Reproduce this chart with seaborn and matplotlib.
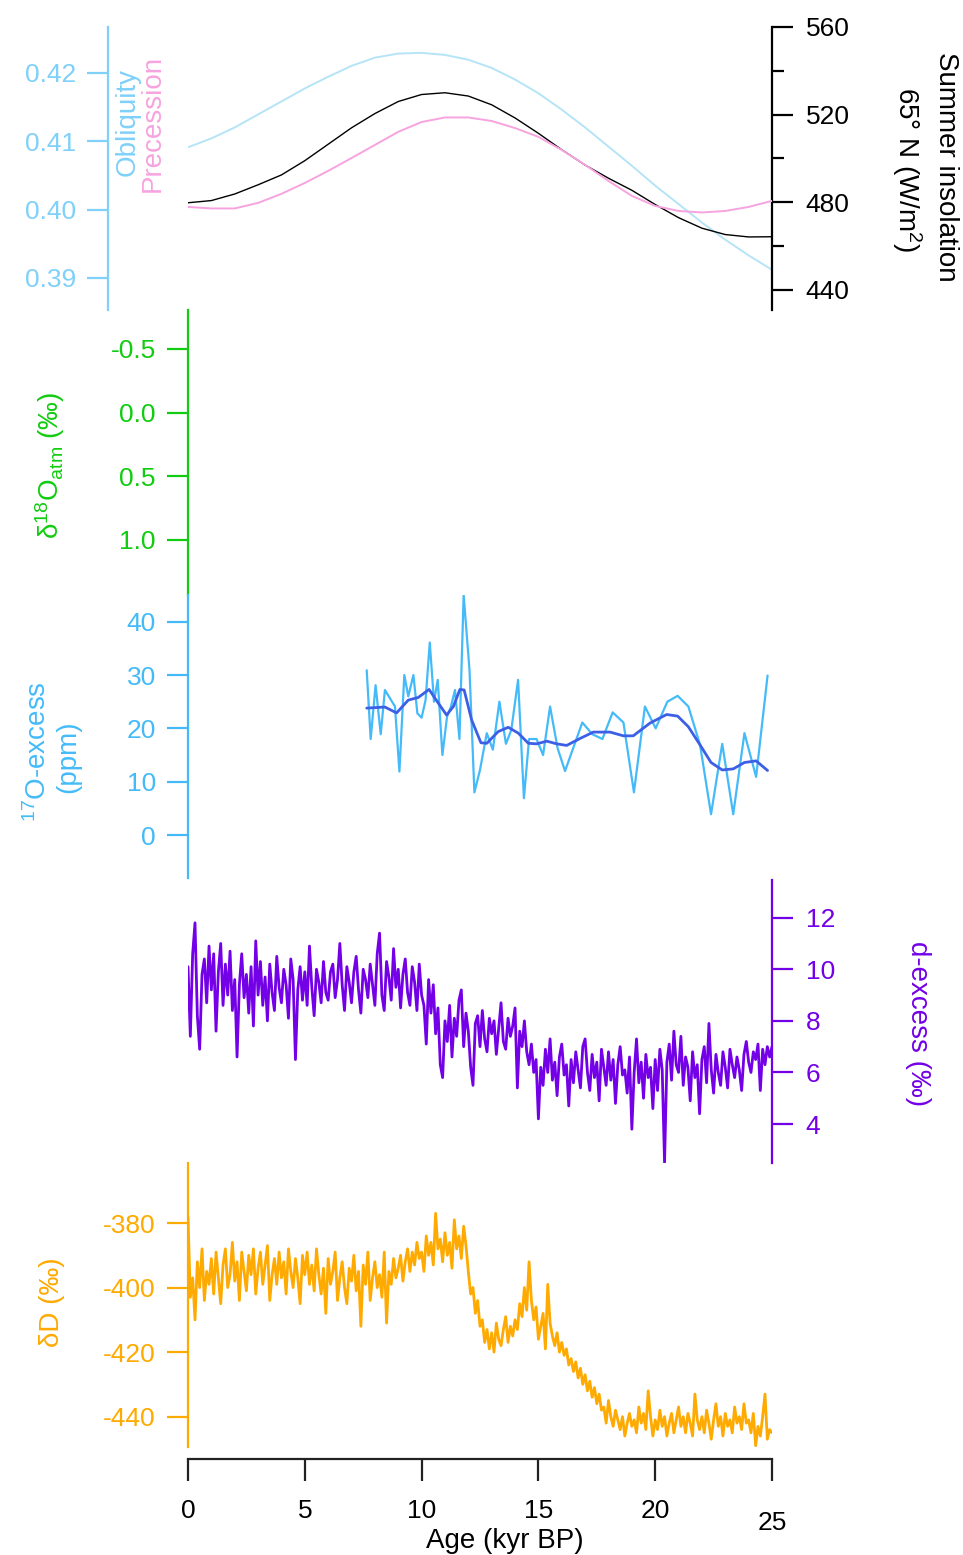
import numpy as np
import matplotlib
matplotlib.use("Agg")
import matplotlib.pyplot as plt
import matplotlib.transforms as mtransforms
import seaborn as sns

# ---------------- data ----------------
orb_age = [0, 1, 2, 3, 4, 5, 6, 7, 8, 9, 10, 11, 12, 13, 14, 15, 16, 17, 18, 19, 20, 21, 22, 23, 24, 25]
obliquity = [0.4091, 0.4104, 0.4120, 0.4139, 0.4158, 0.4177, 0.4194, 0.4210, 0.4222, 0.4228,
             0.4229, 0.4226, 0.4219, 0.4207, 0.4190, 0.4170, 0.4146, 0.4120, 0.4092, 0.4064,
             0.4035, 0.4008, 0.3981, 0.3956, 0.3933, 0.3912]
insolation = [479.8, 480.8, 483.8, 488.0, 492.5, 499.0, 506.5, 514.0, 520.5, 526.0,
              529.2, 530.0, 528.5, 524.5, 518.5, 511.5, 504.0, 497.0, 491.0, 485.5,
              479.0, 473.0, 468.2, 465.3, 464.2, 464.3]
precession = [0.0163, 0.0169, 0.0169, 0.0147, 0.0111, 0.0068, 0.0020, -0.0031, -0.0083, -0.0135,
              -0.0174, -0.0192, -0.0192, -0.0178, -0.0150, -0.0115, -0.0063, -0.0004, 0.0060, 0.0119,
              0.0159, 0.0179, 0.0185, 0.0179, 0.0163, 0.0139]

o17_age = [7.65, 7.82, 8.03, 8.25, 8.43, 8.86, 9.05, 9.26, 9.43, 9.65,
           9.82, 10.00, 10.17, 10.35, 10.53, 10.69, 10.89, 11.09, 11.25, 11.43,
           11.62, 11.80, 12.05, 12.26, 12.50, 12.79, 13.05, 13.33, 13.61, 13.84,
           14.13, 14.38, 14.60, 14.92, 15.20, 15.50, 15.82, 16.14, 16.88, 17.31,
           17.74, 18.18, 18.64, 19.09, 19.56, 20.02, 20.52, 20.96, 21.42, 21.92,
           22.39, 22.87, 23.34, 23.82, 24.32, 24.81]
o17_excess = [30.9, 18.0, 28.1, 18.9, 27.2, 24.1, 11.9, 30.0, 26.0, 30.0,
              22.8, 22.0, 25.3, 36.1, 25.0, 29.1, 15.0, 22.2, 24.0, 27.2,
              18.0, 45.0, 31.0, 8.0, 12.2, 19.1, 16.0, 25.0, 17.1, 19.7,
              29.1, 6.9, 18.0, 18.0, 15.0, 24.1, 16.3, 12.0, 21.1, 18.9,
              18.0, 23.0, 21.1, 8.0, 24.1, 20.0, 25.0, 26.1, 24.1, 16.9,
              3.9, 17.1, 3.9, 19.1, 10.9, 29.9]
o17_smooth_age = [7.65, 8.43, 8.93, 9.43, 9.86, 10.32, 10.72, 11.07, 11.36, 11.64,
                  11.82, 12.14, 12.54, 12.79, 13.28, 13.71, 14.14, 14.57, 14.93, 15.36,
                  15.78, 16.21, 16.78, 17.35, 18.07, 18.64, 19.06, 19.78, 20.49, 20.96,
                  21.42, 21.92, 22.39, 22.87, 23.34, 23.82, 24.32, 24.81]
o17_smooth = [23.8, 24.0, 22.9, 25.3, 25.8, 27.3, 24.7, 22.5, 24.1, 27.3,
              27.2, 21.6, 17.3, 17.2, 19.4, 20.2, 19.1, 17.2, 17.1, 17.6,
              17.1, 16.8, 18.1, 19.3, 19.3, 18.6, 18.6, 21.0, 22.6, 22.3,
              20.3, 16.9, 13.6, 12.2, 12.4, 13.6, 13.9, 12.1]

# ice-core records, 0.1 kyr spacing from 0 to 25 kyr BP
core_age = np.round(np.arange(251) * 0.1, 1)
d_excess = [
    10.1, 7.4, 10.6, 11.8, 8.2, 6.9, 9.8, 10.4, 8.7, 10.9,
    9.2, 10.6, 7.6, 9.9, 11.0, 8.6, 10.2, 9.0, 10.7, 8.4,
    9.6, 6.6, 9.4, 10.6, 8.9, 9.8, 8.3, 10.1, 7.8, 11.1,
    9.0, 10.3, 8.6, 9.7, 8.0, 10.2, 9.1, 8.4, 10.5, 9.3,
    8.7, 10.0, 9.4, 8.1, 10.4, 9.6, 6.5, 9.2, 10.1, 8.8,
    9.9, 8.6, 10.9, 9.3, 8.2, 10.0, 9.5, 8.7, 10.3, 9.1,
    8.8, 9.9, 10.2, 8.9, 9.6, 11.0, 9.4, 8.4, 10.1, 9.5,
    8.7, 9.9, 10.5, 9.2, 8.3, 10.0, 9.6, 8.9, 10.2, 9.4,
    8.6, 10.6, 11.4, 9.0, 8.4, 10.3, 9.7, 8.8, 10.8, 9.3,
    10.0, 8.5, 9.8, 10.4, 9.1, 8.6, 10.1, 9.5, 8.4, 10.2,
    9.0, 8.6, 7.1, 9.6, 8.3, 9.4, 7.5, 8.5, 6.3, 5.8,
    8.0, 7.2, 8.6, 6.6, 8.1, 7.4, 8.8, 9.2, 7.0, 8.3,
    7.6, 6.2, 5.5, 7.9, 8.2, 7.0, 8.4, 7.3, 6.8, 8.1,
    7.5, 8.0, 6.7, 7.7, 8.7, 7.2, 6.9, 8.1, 7.4, 7.8,
    8.5, 5.4, 7.6, 7.0, 8.0, 6.8, 6.3, 7.1, 6.0, 6.5,
    4.2, 6.2, 5.5, 6.9, 6.0, 7.3, 5.7, 6.4, 5.1, 6.6,
    7.1, 5.9, 6.3, 4.7, 6.5, 5.6, 6.8, 6.1, 5.4, 7.0,
    7.3, 6.0, 5.3, 6.7, 5.8, 6.4, 4.9, 6.9, 6.2, 5.5,
    6.8, 5.7, 6.5, 4.8, 6.3, 7.0, 5.9, 6.1, 5.2, 6.6,
    3.8, 6.0, 7.3, 5.6, 6.4, 5.0, 6.7, 5.8, 6.2, 4.6,
    6.5, 5.3, 6.9, 6.1, 2.5, 6.4, 7.1, 5.7, 7.6, 6.3,
    6.0, 7.4, 5.5, 6.6, 6.2, 4.9, 6.8, 5.8, 6.3, 4.4,
    6.5, 7.0, 5.6, 7.9, 6.1, 5.2, 6.7, 6.0, 5.5, 6.8,
    6.2, 5.4, 6.9, 6.3, 5.8, 6.6, 6.1, 5.3, 6.7, 7.2,
    6.4, 6.0, 6.8, 6.5, 7.1, 5.3, 6.9, 6.3, 7.0, 6.6,
    7.0]
delta_d = [
    -378, -403, -397, -410, -392, -400, -388, -404, -395, -399,
    -391, -402, -389, -397, -405, -393, -388, -400, -396, -386,
    -398, -392, -404, -389, -395, -401, -390, -396, -388, -402,
    -394, -389, -399, -393, -387, -404, -396, -391, -399, -389,
    -397, -392, -402, -388, -395, -400, -391, -397, -405, -390,
    -396, -389, -399, -393, -401, -388, -396, -402, -394, -408,
    -391, -399, -395, -389, -404, -397, -392, -400, -405, -394,
    -398, -390, -401, -395, -412, -393, -399, -389, -404, -397,
    -392, -400, -396, -403, -389, -411, -395, -399, -391, -397,
    -394, -390, -398, -392, -388, -395, -389, -393, -386, -391,
    -389, -395, -384, -390, -386, -393, -377, -388, -385, -392,
    -383, -390, -386, -394, -379, -388, -384, -391, -381, -387,
    -395, -402, -400, -408, -404, -412, -410, -417, -413, -419,
    -414, -420, -411, -416, -418, -413, -409, -417, -412, -415,
    -410, -413, -405, -409, -400, -407, -392, -404, -410, -406,
    -416, -412, -408, -419, -399, -411, -415, -418, -414, -420,
    -417, -421, -419, -424, -422, -426, -423, -428, -425, -430,
    -427, -432, -429, -434, -431, -436, -433, -438, -437, -442,
    -435, -440, -443, -438, -441, -444, -440, -446, -442, -439,
    -443, -441, -445, -437, -442, -439, -444, -432, -440, -446,
    -441, -444, -438, -443, -440, -446, -442, -439, -445, -441,
    -437, -443, -440, -445, -439, -442, -446, -433, -441, -444,
    -440, -445, -438, -442, -447, -441, -436, -443, -440, -446,
    -439, -443, -441, -445, -437, -442, -440, -444, -436, -442,
    -441, -445, -439, -449, -443, -446, -440, -433, -447, -444,
    -445]

x_ticks = [0, 5, 10, 15, 20, 25]
obl_ticks = [0.39, 0.40, 0.41, 0.42]
ins_ticks = [440, 480, 520, 560]
d18_ticks = [-0.5, 0.0, 0.5, 1.0]
o17_ticks = [0, 10, 20, 30, 40]
dex_ticks = [4, 6, 8, 10, 12]
dd_ticks = [-440, -420, -400, -380]

# ---------------- style ----------------
sns.set_theme(style="white")
plt.rcParams["font.family"] = ["Liberation Sans", "DejaVu Sans"]
plt.rcParams["mathtext.default"] = "regular"
plt.rcParams["lines.solid_joinstyle"] = "round"

C_OBL = "#7fd0fa"
C_OBL_LINE = "#b5e4f7"
C_PREC = "#f7a3df"
C_D18 = "#11cc11"
C_O17 = "#44bbf8"
C_O17S = "#3d5fe6"
C_DEX = "#7300e6"
C_DD = "#ffaa00"

W, H = 963, 1555
fig = plt.figure(figsize=(W / 100, H / 100), dpi=100)
PX = 0.72  # points per pixel
TS = 19
LS = 20


def add_axes(top, bottom, left=188, right=772):
    return fig.add_axes([left / W, 1 - bottom / H, (right - left) / W, (bottom - top) / H])


def style(ax, side, color, ticks, labels, ylim, pad=8):
    ax.set_xlim(0, 25)
    ax.set_ylim(*ylim)
    for s in ["top", "bottom", "left", "right"]:
        ax.spines[s].set_visible(False)
    ax.spines[side].set_visible(True)
    ax.spines[side].set_color(color)
    ax.spines[side].set_linewidth(1.6)
    ax.yaxis.set_ticks_position(side)
    ax.set_yticks(ticks)
    ax.set_yticklabels(labels)
    ax.tick_params(axis="y", which="major", direction="out", length=21 * PX, width=1.6,
                   color=color, labelcolor=color, labelsize=TS, pad=pad,
                   left=(side == "left"), right=(side == "right"),
                   labelleft=(side == "left"), labelright=(side == "right"))
    ax.tick_params(axis="x", bottom=False, labelbottom=False, top=False)
    ax.set_xlabel("")
    ax.set_ylabel("")
    ax.patch.set_visible(False)
    ax.grid(False)


def line(ax, x, y, color, lw):
    sns.lineplot(x=x, y=y, ax=ax, color=color, linewidth=lw, estimator=None,
                 sort=False, legend=False)


# ---- panel 1: orbital parameters ----
ax1 = add_axes(27, 310)
ax1b = ax1.twinx()
ax1c = ax1.twinx()
line(ax1, orb_age, obliquity, C_OBL_LINE, 1.4)
line(ax1b, orb_age, insolation, "black", 1.0)
line(ax1c, orb_age, precession, C_PREC, 1.4)
style(ax1, "left", C_OBL, obl_ticks, ["%.2f" % t for t in obl_ticks], (0.38532, 0.42668))
ax1.spines["left"].set_position(("outward", 80 * PX))
style(ax1b, "right", "black", ins_ticks, [str(t) for t in ins_ticks], (430.87, 560), pad=9)
ax1b.set_yticks([460, 500, 540], minor=True)
ax1b.tick_params(axis="y", which="minor", direction="out", length=12 * PX, width=1.6,
                 color="black", right=True, left=False)
ax1c.set_ylim(0.0572, -0.0551)
ax1c.set_xlim(0, 25)
ax1c.axis("off")

# ---- panel 2: d18Oatm (empty) ----
ax2 = add_axes(310, 595)
style(ax2, "left", C_D18, d18_ticks, ["-0.5", "0.0", "0.5", "1.0"], (1.432, -0.806))

# ---- panel 3: 17O-excess ----
ax3 = add_axes(595, 878)
line(ax3, o17_age, o17_excess, C_O17, 1.6)
line(ax3, o17_smooth_age, o17_smooth, C_O17S, 2.0)
style(ax3, "left", C_O17, o17_ticks, [str(t) for t in o17_ticks], (-8.06, 45.01))

# ---- panel 4: d-excess ----
ax4 = add_axes(880, 1163)
line(ax4, core_age, d_excess, C_DEX, 2.0)
style(ax4, "right", C_DEX, dex_ticks, [str(t) for t in dex_ticks], (2.49, 13.46), pad=9)

# ---- panel 5: dD ----
ax5 = add_axes(1163, 1447)
line(ax5, core_age, delta_d, C_DD, 2.0)
style(ax5, "left", C_DD, dd_ticks, [str(t) for t in dd_ticks], (-449.4, -361.4))
ax5.spines["bottom"].set_visible(True)
ax5.spines["bottom"].set_color("#222222")
ax5.spines["bottom"].set_linewidth(1.6)
ax5.spines["bottom"].set_position(("outward", 12 * PX))
ax5.set_xticks(x_ticks)
ax5.set_xticklabels([str(t) for t in x_ticks])
ax5.tick_params(axis="x", bottom=True, labelbottom=True, direction="out",
                length=22 * PX, width=1.6, color="#222222", labelcolor="black",
                labelsize=TS, pad=13)
lab25 = ax5.get_xticklabels()[-1]
lab25.set_transform(lab25.get_transform() +
                    mtransforms.ScaledTranslation(0, -12 / 100, fig.dpi_scale_trans))


# ---------------- axis titles ----------------
def ftext(x, y, s, color, rot, size=LS, **kw):
    fig.text(x / W, 1 - y / H, s, color=color, rotation=rot, fontsize=size,
             ha="center", va="center", rotation_mode="anchor", **kw)


ftext(128, 122, "Obliquity", C_OBL, 90)
ftext(153, 123, "Precession", C_PREC, 90)
ftext(946, 167, "Summer insolation", "black", 270)
ftext(907, 170, "65° N (W/m$^2$)", "black", 270)
ftext(50, 465, "δ$^{18}$O$_{atm}$ (‰)", C_D18, 90)
ftext(38, 752, "$^{17}$O-excess", C_O17, 90)
ftext(68, 757, "(ppm)", C_O17, 90)
ftext(918, 1024, "d-excess (‰)", C_DEX, 270)
ftext(52, 1302, "δD (‰)", C_DD, 90)
ftext(505, 1541, "Age (kyr BP)", "black", 0)

fig.savefig("out.png", dpi=100, facecolor="white")
